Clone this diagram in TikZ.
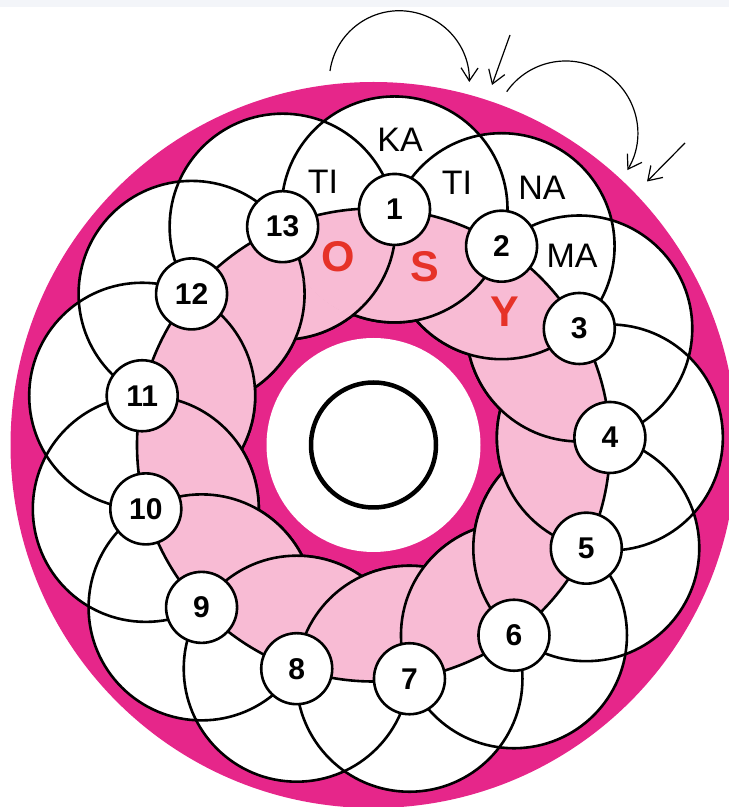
\documentclass[tikz,border=0pt]{standalone}
\usepackage{fontspec}
\setmainfont{Liberation Sans}
\usetikzlibrary{arrows.meta,calc}
\definecolor{magentatua}{RGB}{230,38,138}
\definecolor{merahmuda}{RGB}{248,187,212}
\definecolor{merahhuruf}{RGB}{230,50,40}
\definecolor{pitaatas}{RGB}{243,245,249}

\begin{document}
\begin{tikzpicture}[x=1pt,y=1pt,
    garis/.style={draw=black, line width=2.6pt},
    angka/.style={circle, draw=black, fill=white, line width=2.6pt, minimum size=71pt,
      inner sep=0pt, font=\fontsize{30}{30}\selectfont\bfseries},
    suku/.style={inner sep=0pt, font=\fontsize{34}{34}\selectfont},
    huruf/.style={inner sep=0pt, text=merahhuruf, font=\fontsize{43}{43}\selectfont\bfseries},
    panah/.style={line width=1.2pt, -{Straight Barb[length=13pt,width=17pt]}}]
    \useasboundingbox (0,0) rectangle (729,807);
    \clip (0,0) rectangle (729,807);
    \fill[pitaatas] (0,800) rectangle (729,807);

    % Cakram luar
    \coordinate (pusat) at (373.5,362);
    \fill[magentatua] (pusat) circle[radius=363pt];
    \foreach \k in {1,...,13}
      \coordinate (c\k) at ($(pusat)+({84.9-(\k-1)*27.692}:236.5)$);

    % Lingkaran besar, bagian luar
    \foreach \k in {1,...,13}
      \fill[white] (c\k) circle[radius=113pt];
    \foreach \k in {1,...,13}
      \draw[garis] (c\k) circle[radius=113pt];

    % Bagian dalam, saling menumpuk
    \begin{scope}
      \clip (pusat) circle[radius=236.5pt];
      \foreach \k in {13,...,1}
        \filldraw[garis, fill=merahmuda] (c\k) circle[radius=113pt];
      \begin{scope}
        \clip (c1) circle[radius=115pt];
        \filldraw[garis, fill=merahmuda] (c13) circle[radius=113pt];
        \filldraw[garis, fill=merahmuda] (c12) circle[radius=113pt];
      \end{scope}
    \end{scope}
    \draw[garis] (pusat) circle[radius=236.5pt];

    % Lubang tengah
    \fill[white] (pusat) circle[radius=107pt];
    \draw[line width=4.5pt] (pusat) circle[radius=62.5pt];

    % Lingkaran angka
    \foreach \k in {1,...,13}
      \node[angka] (n\k) at (c\k) {\k};

    % Suku kata dan huruf
    \node[suku] (ka) at (400,667) {KA};
    \node[suku] (ti1) at (323,625) {TI};
    \node[suku] (ti2) at (457,624) {TI};
    \node[suku] (na) at (542,619) {NA};
    \node[suku] (ma) at (572,551) {MA};
    \node[huruf] (ho) at (338,550) {O};
    \node[huruf] (hs) at (425,540) {S};
    \node[huruf] (hy) at (505,495) {Y};

    % Panah
    \coordinate (p1a) at (330,736);
    \draw[panah] (p1a) arc[start angle=172, end angle=-1, radius=70pt];
    \coordinate (p2a) at (510,772);
    \coordinate (p2b) at (492,722);
    \draw[panah] (p2a) -- (p2b);
    \coordinate (p3a) at (506.7,715.3);
    \draw[panah] (p3a) arc[start angle=145, end angle=-31, radius=72pt];
    \coordinate (p4a) at (685,664);
    \coordinate (p4b) at (647,625.5);
    \draw[panah] (p4a) -- (p4b);
  \end{tikzpicture}
\end{document}
